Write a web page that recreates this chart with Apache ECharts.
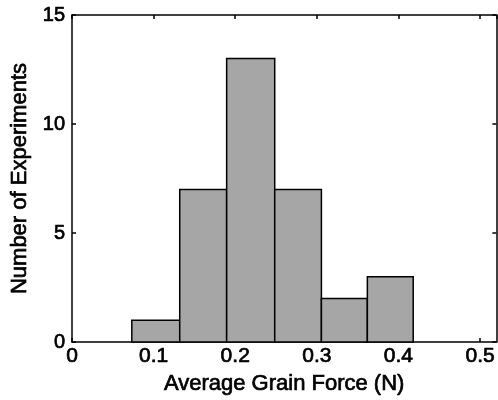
<!DOCTYPE html>
<html><head><meta charset="utf-8">
<script src="https://cdn.jsdelivr.net/npm/echarts@6/dist/echarts.min.js"></script>
<style>html,body{margin:0;padding:0;background:#fff}#c{width:498px;height:400px}</style>
</head><body><div id="c"></div>
<script>
// bin edges (N) and counts
var binEdges = [0.0733, 0.1320, 0.1895, 0.2484, 0.3056, 0.3619, 0.4181];
var counts = [1, 7, 13, 7, 2, 3];
var xTicks = [0, 0.1, 0.2, 0.3, 0.4, 0.5];
var yTicks = [0, 5, 10, 15];

var data = counts.map(function (c, i) { return [binEdges[i], binEdges[i + 1], c]; });
var font = 'Liberation Sans, Arial, sans-serif';
var thick = { textBorderColor: '#000', textBorderWidth: 0.7 };

function xFmt(v) {
  var r = Math.round(v * 10) / 10;
  return (Math.abs(v - r) < 1e-6 && xTicks.indexOf(r) >= 0) ? String(r) : '';
}
var lineCommon = { show: true, onZero: false, lineStyle: { color: '#000', width: 1.5 } };
var tickCommon = { show: true, inside: true, length: 4, lineStyle: { color: '#000', width: 1.5 } };

var chart = echarts.init(document.getElementById('c'));
chart.setOption({
  animation: false,
  grid: { left: 72, top: 15, right: 1, bottom: 56, containLabel: false },
  xAxis: [{
    type: 'value', min: 0, max: 0.52, interval: 0.1, position: 'bottom',
    name: 'Average Grain Force (N)', nameLocation: 'middle', nameGap: 30,
    nameTextStyle: Object.assign({ fontFamily: font, fontSize: 22, color: '#000' }, thick),
    axisLine: lineCommon, axisTick: tickCommon,
    axisLabel: Object.assign({ fontFamily: font, fontSize: 21, color: '#000', margin: 4, showMaxLabel: false, formatter: xFmt }, thick),
    splitLine: { show: false }
  }, {
    type: 'value', min: 0, max: 0.52, interval: 0.1, position: 'top',
    axisLine: lineCommon, axisTick: tickCommon,
    axisLabel: { show: false }, splitLine: { show: false }
  }],
  yAxis: [{
    type: 'value', min: 0, max: 15, interval: 5, position: 'left',
    name: 'Number of Experiments', nameLocation: 'middle', nameGap: 38,
    nameTextStyle: Object.assign({ fontFamily: font, fontSize: 22, color: '#000' }, thick),
    axisLine: lineCommon, axisTick: tickCommon,
    axisLabel: Object.assign({ fontFamily: font, fontSize: 20, color: '#000', margin: 7 }, thick),
    splitLine: { show: false }
  }, {
    type: 'value', min: 0, max: 15, interval: 5, position: 'right',
    axisLine: lineCommon, axisTick: tickCommon,
    axisLabel: { show: false }, splitLine: { show: false }
  }],
  series: [{
    type: 'custom',
    xAxisIndex: 0, yAxisIndex: 0,
    data: data,
    renderItem: function (params, api) {
      var p0 = api.coord([api.value(0), 0]);
      var p1 = api.coord([api.value(1), api.value(2)]);
      return {
        type: 'rect',
        shape: { x: p0[0], y: p1[1], width: p1[0] - p0[0], height: p0[1] - p1[1] },
        style: { fill: '#a6a6a6', stroke: '#000', lineWidth: 1.5 }
      };
    }
  }]
});
</script></body></html>
